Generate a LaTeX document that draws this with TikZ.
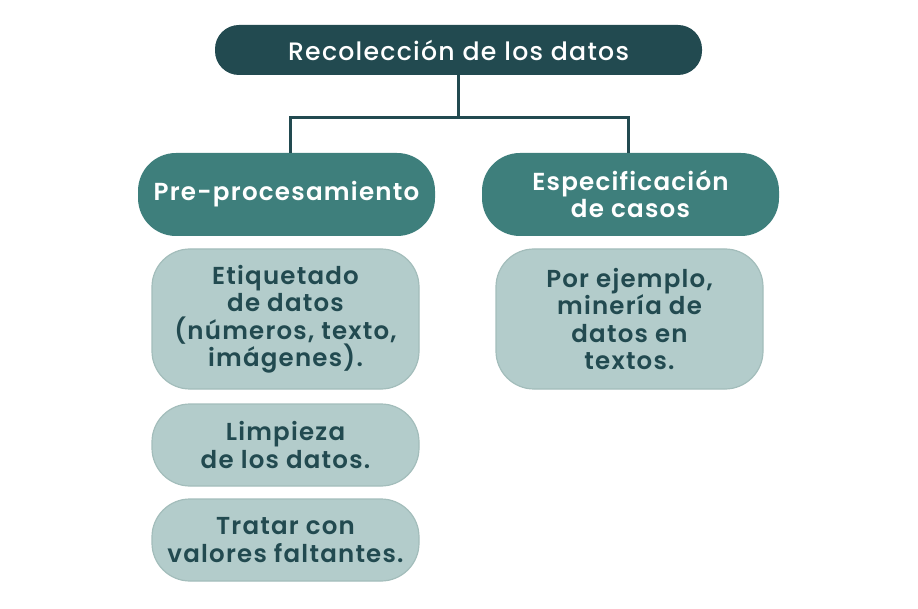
\documentclass[tikz,border=0pt]{standalone}
\usepackage{fontspec}
\setmainfont{Poppins}[BoldFont={Poppins SemiBold}, LetterSpace=5]
\newfontfamily\titlefont{Poppins Medium}[LetterSpace=5]
\definecolor{darkteal}{HTML}{224A50}
\definecolor{midteal}{HTML}{3E7F7C}
\definecolor{lightteal}{HTML}{B3CCCB}
\definecolor{lightborder}{HTML}{A3BDBB}
\begin{document}
\begin{tikzpicture}[x=1pt,y=-1pt,
  topbox/.style={fill=darkteal, text=white, rounded corners=24pt, minimum width=487pt, minimum height=50pt, inner sep=0pt, font=\titlefont\fontsize{25.2}{28}\selectfont},
  midbox/.style={fill=midteal, text=white, rounded corners=38pt, minimum width=297pt, minimum height=83pt, inner sep=0pt, align=center, font=\bfseries\fontsize{24.6}{27}\selectfont},
  leafbox/.style={fill=lightteal, draw=lightborder, line width=1.2pt, text=darkteal, rounded corners=38pt, minimum width=267pt, inner sep=0pt, align=center, font=\bfseries\fontsize{24.5}{27.5}\selectfont},
  conn/.style={draw=darkteal, line width=3pt}
]
\useasboundingbox (0,0) rectangle (918,609);
\node[topbox] (top) at (458.5,50) {Recolección de los datos};
\node[midbox] (pre) at (286.5,194.5) {Pre-procesamiento};
\node[midbox] (esp) at (630.5,194.5) {Especificación\\de casos};
\node[leafbox, minimum height=140pt] (eti) at (285.5,319) {Etiquetado\\de datos\\(números, texto,\\imágenes).};
\node[leafbox, minimum height=82pt] (lim) at (285.5,445) {Limpieza\\de los datos.};
\node[leafbox, minimum height=82pt] (tra) at (285.5,540) {Tratar con\\valores faltantes.};
\node[leafbox, minimum height=140pt] (por) at (629.5,319) {Por ejemplo,\\minería de\\datos en\\textos.};
\coordinate (j) at (458.5,118);
\draw[conn] (top.south) -- (j);
\draw[conn] ([xshift=3.5pt]pre.north) |- (j) -| ([xshift=-2.5pt]esp.north);
\end{tikzpicture}
\end{document}
